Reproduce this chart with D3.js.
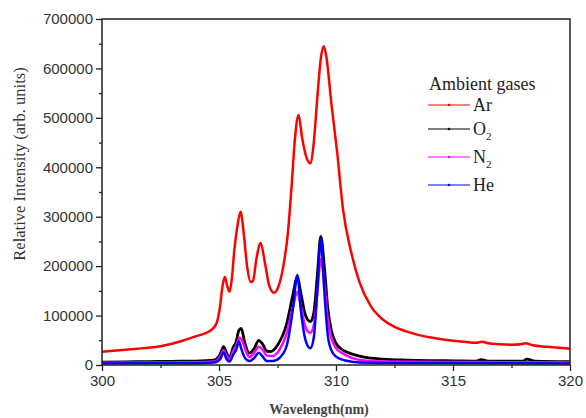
<!DOCTYPE html>
<html>
<head>
<meta charset="utf-8">
<script src="https://cdn.jsdelivr.net/npm/d3@7"></script>
<style>
  body { margin: 0; background: #fff; }
  .tick text { font-family: "Liberation Sans", Arial, sans-serif; font-size: 15px; fill: #333; }
  .axis path, .axis line { stroke: #222; }
</style>
</head>
<body>
<div class="chart"></div>
<script>
// wavelength (nm), intensity
var ar = [
  [300.0, 27000], [300.5, 29000], [301.0, 31000], [301.5, 33000], [302.0, 35000],
  [302.5, 38000], [303.0, 43000], [303.5, 50000], [304.0, 58000], [304.4, 64000],
  [304.7, 72000], [304.9, 85000], [305.05, 120000], [305.15, 160000], [305.25, 178000],
  [305.35, 160000], [305.45, 148000], [305.55, 175000], [305.65, 230000], [305.8, 285000],
  [305.92, 310000], [306.05, 270000], [306.2, 200000], [306.35, 168000], [306.45, 170000],
  [306.6, 215000], [306.78, 247000], [306.95, 210000], [307.15, 160000], [307.35, 146000],
  [307.55, 160000], [307.75, 200000], [307.95, 270000], [308.1, 360000], [308.25, 460000],
  [308.4, 506000], [308.55, 460000], [308.75, 418000], [308.9, 408000], [309.05, 450000],
  [309.2, 540000], [309.35, 620000], [309.48, 645000], [309.6, 620000], [309.8, 530000],
  [310.05, 430000], [310.3, 315000], [310.65, 228000], [311.0, 168000], [311.5, 118000],
  [312.0, 92000], [312.5, 77000], [313.0, 68000], [313.5, 61000], [314.0, 56000],
  [314.5, 52000], [315.0, 49000], [315.5, 47000], [316.0, 45000], [316.25, 47000],
  [316.5, 44000], [317.0, 42000], [317.5, 41000], [317.9, 42000], [318.1, 44000],
  [318.4, 40000], [319.0, 37000], [319.5, 35000], [320.0, 33000]
];
var o2 = [
  [300.0, 6000], [301.0, 6500], [302.0, 7000], [303.0, 7500], [304.0, 8000],
  [304.8, 10000], [305.05, 22000], [305.2, 37000], [305.3, 27000], [305.45, 15000],
  [305.6, 35000], [305.72, 45000], [305.85, 70000], [305.95, 74000], [306.1, 45000],
  [306.3, 24000], [306.5, 33000], [306.7, 50000], [306.85, 43000], [307.05, 28000],
  [307.2, 27000], [307.5, 40000], [307.9, 85000], [308.15, 140000], [308.35, 178000],
  [308.5, 145000], [308.7, 100000], [308.9, 88000], [309.05, 105000], [309.2, 180000],
  [309.35, 260000], [309.5, 200000], [309.65, 115000], [309.8, 70000], [310.0, 44000],
  [310.3, 30000], [310.7, 22000], [311.2, 16000], [312.0, 12000], [313.0, 10000],
  [314.0, 9000], [315.0, 8500], [316.0, 8000], [316.2, 11000], [316.5, 8000],
  [318.0, 8000], [318.15, 12000], [318.5, 8000], [320.0, 7000]
];
var n2 = [
  [300.0, 4500], [302.0, 5000], [304.0, 5500], [304.8, 7000], [305.05, 17000],
  [305.2, 30000], [305.3, 21000], [305.45, 11000], [305.6, 28000], [305.72, 38000],
  [305.88, 55000], [306.0, 48000], [306.15, 28000], [306.3, 16000], [306.5, 24000],
  [306.7, 37000], [306.85, 32000], [307.05, 19000], [307.3, 18000], [307.6, 32000],
  [307.9, 65000], [308.15, 115000], [308.35, 148000], [308.5, 118000], [308.7, 76000],
  [308.9, 65000], [309.05, 80000], [309.2, 145000], [309.35, 214000], [309.5, 165000],
  [309.65, 92000], [309.8, 55000], [310.0, 34000], [310.3, 23000], [310.7, 14000],
  [311.2, 9000], [312.0, 7000], [316.0, 6000], [320.0, 5000]
];
var he = [
  [300.0, 3000], [302.0, 3500], [304.0, 3500], [304.8, 5000], [305.05, 12000],
  [305.2, 26000], [305.3, 14000], [305.45, 7000], [305.6, 20000], [305.75, 33000],
  [305.85, 48000], [305.95, 33000], [306.1, 15000], [306.3, 8000], [306.5, 14000],
  [306.7, 25000], [306.85, 18000], [307.05, 8000], [307.3, 8000], [307.6, 15000],
  [307.9, 40000], [308.15, 110000], [308.35, 182000], [308.5, 110000], [308.7, 50000],
  [308.9, 34000], [309.05, 55000], [309.2, 150000], [309.35, 255000], [309.5, 150000],
  [309.65, 60000], [309.8, 30000], [310.0, 17000], [310.4, 9000], [311.0, 5000],
  [312.0, 4000], [320.0, 3000]
];

var seriesNames = ["Ar", "O2", "N2", "He"];
var seriesData = [ar, o2, n2, he];
var seriesColors = ["#ff0000", "#000000", "#ff00ff", "#0000ff"];

var xTicks = [300, 305, 310, 315, 320];
var xMinor = [302.5, 307.5, 312.5, 317.5];
var yTicks = [0, 100000, 200000, 300000, 400000, 500000, 600000, 700000];
var yMinor = [50000, 150000, 250000, 350000, 450000, 550000, 650000];

var svgWidth = 586;
var svgHeight = 418;
var margin = {top: 19, right: 16, bottom: 53, left: 102};
var width = svgWidth - margin.left - margin.right;
var height = svgHeight - margin.top - margin.bottom;

var svg = d3.select(".chart")
  .append("svg")
  .attr("width", svgWidth)
  .attr("height", svgHeight);

var chart = svg.append("g")
  .attr("transform", `translate(${margin.left},${margin.top})`);

var x = d3.scaleLinear().domain([300, 320]).range([0, width]);
var y = d3.scaleLinear().domain([0, 700000]).range([height, 0]);

// clip so curves stay in the frame
chart.append("clipPath").attr("id", "clip")
  .append("rect").attr("width", width).attr("height", height);

var line = d3.line()
  .x(function(d) { return x(d[0]); })
  .y(function(d) { return y(d[1]); })
  .curve(d3.curveMonotoneX);

var plot = chart.append("g").attr("clip-path", "url(#clip)");
seriesData.forEach(function(s, i) {
  plot.append("path")
    .datum(s)
    .attr("fill", "none")
    .attr("stroke", seriesColors[i])
    .attr("stroke-width", i == 1 ? 2.8 : 2.5)
    .attr("stroke-linejoin", "round")
    .attr("d", line);
});

// axes
chart.append("g")
  .attr("class", "axis")
  .attr("transform", "translate(0," + height + ")")
  .call(d3.axisBottom(x).tickValues(xTicks).tickSize(6).tickPadding(4).tickFormat(d3.format("d")))
  .call(function(g) { g.select(".domain").remove(); });
chart.append("g")
  .attr("class", "axis")
  .attr("transform", "translate(0," + height + ")")
  .call(d3.axisBottom(x).tickValues(xMinor).tickSize(3).tickFormat(""))
  .call(function(g) { g.select(".domain").remove(); });

chart.append("g")
  .attr("class", "axis")
  .call(d3.axisLeft(y).tickValues(yTicks).tickSize(6).tickPadding(3).tickFormat(d3.format("d")))
  .call(function(g) { g.select(".domain").remove(); });
chart.append("g")
  .attr("class", "axis")
  .call(d3.axisLeft(y).tickValues(yMinor).tickSize(3).tickFormat(""))
  .call(function(g) { g.select(".domain").remove(); });

chart.selectAll(".axis line").attr("stroke-width", 1.3);

// frame
chart.append("rect")
  .attr("width", width)
  .attr("height", height)
  .attr("fill", "none")
  .attr("stroke", "#222")
  .attr("stroke-width", 1.5);

// axis titles
svg.append("text")
  .attr("x", 319)
  .attr("y", 414)
  .attr("text-anchor", "middle")
  .style("font-family", "'Liberation Serif', 'Times New Roman', serif")
  .style("font-size", "14px")
  .style("font-weight", "bold")
  .style("fill", "#444")
  .text("Wavelength(nm)");

svg.append("text")
  .attr("transform", "translate(25,164) rotate(-90)")
  .attr("text-anchor", "middle")
  .style("font-family", "'Liberation Serif', 'Times New Roman', serif")
  .style("font-size", "16.5px")
  .style("fill", "#333")
  .text("Relative Intensity (arb. units)");

// legend
var legend = svg.append("g")
  .style("font-family", "'Liberation Serif', 'Times New Roman', serif")
  .style("font-size", "18px")
  .style("fill", "#222");

legend.append("text")
  .attr("x", 429)
  .attr("y", 90)
  .text("Ambient gases");

var rowY = [105, 129, 157, 185];
seriesNames.forEach(function(name, i) {
  var g = legend.append("g").attr("transform", "translate(0," + rowY[i] + ")");
  g.append("line")
    .attr("x1", 428).attr("x2", 470)
    .attr("stroke", seriesColors[i])
    .attr("stroke-width", 1.2);
  g.append("circle")
    .attr("cx", 449).attr("r", 1.3)
    .attr("fill", seriesColors[i]);
  var t = g.append("text").attr("x", 473).attr("y", 6);
  if (name === "He" || name === "Ar") {
    t.text(name);
  } else {
    t.append("tspan").text(name[0]);
    t.append("tspan").attr("dy", 5).style("font-size", "11px").text(name[1]);
  }
});
</script>
</body>
</html>
